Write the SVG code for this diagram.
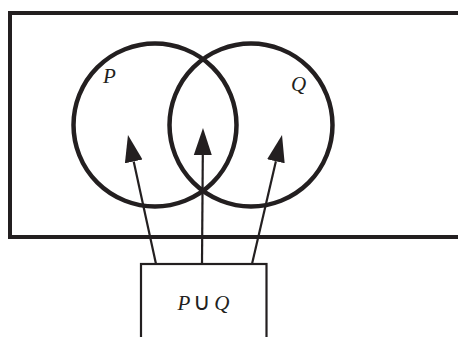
<svg xmlns="http://www.w3.org/2000/svg" width="458" height="337" viewBox="0 0 458 337">
<style>
.frame{fill:none;stroke:#231f20;stroke-width:4}
.circ{fill:none;stroke:#231f20;stroke-width:4.5}
.box{fill:#fff;stroke:#231f20;stroke-width:2.2}
.conn{stroke:#231f20;stroke-width:2.2;fill:none}
.lbl{font-family:"Liberation Serif","Times New Roman",serif;font-style:italic;font-size:21px;fill:#231f20}
</style>
<defs>
<marker id="ah" markerUnits="userSpaceOnUse" markerWidth="30" markerHeight="20" viewBox="0 -10 30 20" refX="0" refY="0" orient="auto">
<path d="M0,-9 L27,0 L0,9 z" fill="#231f20"/>
</marker>
</defs>
<g id="universe"><rect class="frame" x="10" y="13" width="470" height="224"/></g>
<g id="P"><circle class="circ" cx="155" cy="125" r="81.5"/><text class="lbl" x="103" y="83">P</text></g>
<g id="Q"><circle class="circ" cx="251" cy="125" r="81.5"/><text class="lbl" x="291" y="91">Q</text></g>
<g id="union"><rect class="box" x="141" y="264" width="125.5" height="90"/>
<text class="lbl" x="203.5" y="310" text-anchor="middle" font-size="22">P<tspan font-style="normal" font-size="24" dx="3">∪</tspan><tspan dx="3">Q</tspan></text></g>
<g id="connectors">
<line class="conn" x1="156" y1="264" x2="133.7" y2="161.4" marker-end="url(#ah)"/>
<line class="conn" x1="202" y1="264" x2="202.8" y2="155" marker-end="url(#ah)"/>
<line class="conn" x1="252" y1="264" x2="275.9" y2="161.3" marker-end="url(#ah)"/>
</g>
</svg>
